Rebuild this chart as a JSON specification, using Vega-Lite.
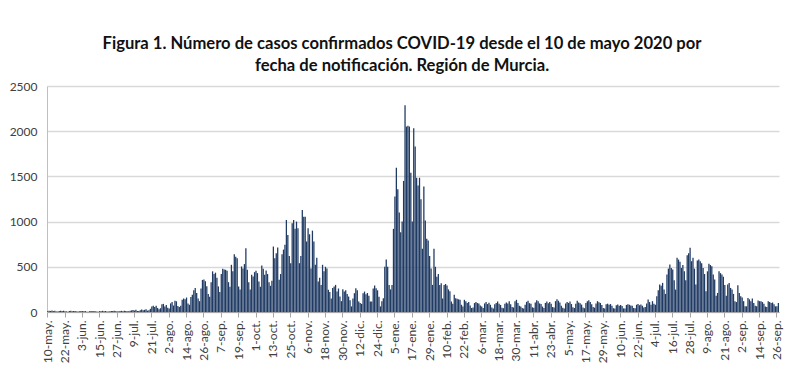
{
"$schema": "https://vega.github.io/schema/vega-lite/v6.json",
"autosize": {"type": "none"},
"width": 732,
"height": 226,
"padding": {"left": 47, "top": 86, "right": 21, "bottom": 64},
"background": "white",
"title": {
"text": ["Figura 1. Número de casos confirmados COVID-19 desde el 10 de mayo 2020 por", "fecha de notificación. Región de Murcia."],
"font": "Lato", "fontSize": 16.6, "fontWeight": "bold", "color": "#111111",
"anchor": "middle", "frame": "group", "dx": -11, "offset": 5, "lineHeight": 22
},
"data": {"values": [
{"d":"2020-05-10","n":8},{"d":"2020-05-11","n":14},{"d":"2020-05-12","n":12},{"d":"2020-05-13","n":16},{"d":"2020-05-14","n":10},{"d":"2020-05-15","n":13},{"d":"2020-05-16","n":6},
{"d":"2020-05-17","n":5},{"d":"2020-05-18","n":12},{"d":"2020-05-19","n":15},{"d":"2020-05-20","n":11},{"d":"2020-05-21","n":14},{"d":"2020-05-22","n":9},{"d":"2020-05-23","n":7},
{"d":"2020-05-24","n":4},{"d":"2020-05-25","n":10},{"d":"2020-05-26","n":13},{"d":"2020-05-27","n":9},{"d":"2020-05-28","n":12},{"d":"2020-05-29","n":11},{"d":"2020-05-30","n":6},
{"d":"2020-05-31","n":5},{"d":"2020-06-01","n":8},{"d":"2020-06-02","n":12},{"d":"2020-06-03","n":10},{"d":"2020-06-04","n":9},{"d":"2020-06-05","n":11},{"d":"2020-06-06","n":4},
{"d":"2020-06-07","n":3},{"d":"2020-06-08","n":9},{"d":"2020-06-09","n":11},{"d":"2020-06-10","n":8},{"d":"2020-06-11","n":12},{"d":"2020-06-12","n":7},{"d":"2020-06-13","n":5},
{"d":"2020-06-14","n":4},{"d":"2020-06-15","n":10},{"d":"2020-06-16","n":8},{"d":"2020-06-17","n":13},{"d":"2020-06-18","n":9},{"d":"2020-06-19","n":11},{"d":"2020-06-20","n":6},
{"d":"2020-06-21","n":5},{"d":"2020-06-22","n":9},{"d":"2020-06-23","n":12},{"d":"2020-06-24","n":10},{"d":"2020-06-25","n":14},{"d":"2020-06-26","n":8},{"d":"2020-06-27","n":7},
{"d":"2020-06-28","n":6},{"d":"2020-06-29","n":11},{"d":"2020-06-30","n":13},{"d":"2020-07-01","n":9},{"d":"2020-07-02","n":15},{"d":"2020-07-03","n":12},{"d":"2020-07-04","n":8},
{"d":"2020-07-05","n":7},{"d":"2020-07-06","n":14},{"d":"2020-07-07","n":18},{"d":"2020-07-08","n":22},{"d":"2020-07-09","n":16},{"d":"2020-07-10","n":25},{"d":"2020-07-11","n":10},
{"d":"2020-07-12","n":12},{"d":"2020-07-13","n":20},{"d":"2020-07-14","n":28},{"d":"2020-07-15","n":18},{"d":"2020-07-16","n":24},{"d":"2020-07-17","n":30},{"d":"2020-07-18","n":15},
{"d":"2020-07-19","n":18},{"d":"2020-07-20","n":35},{"d":"2020-07-21","n":62},{"d":"2020-07-22","n":70},{"d":"2020-07-23","n":55},{"d":"2020-07-24","n":68},{"d":"2020-07-25","n":45},
{"d":"2020-07-26","n":30},{"d":"2020-07-27","n":42},{"d":"2020-07-28","n":85},{"d":"2020-07-29","n":90},{"d":"2020-07-30","n":60},{"d":"2020-07-31","n":78},{"d":"2020-08-01","n":48},
{"d":"2020-08-02","n":40},{"d":"2020-08-03","n":95},{"d":"2020-08-04","n":110},{"d":"2020-08-05","n":72},{"d":"2020-08-06","n":125},{"d":"2020-08-07","n":118},{"d":"2020-08-08","n":65},
{"d":"2020-08-09","n":55},{"d":"2020-08-10","n":70},{"d":"2020-08-11","n":135},{"d":"2020-08-12","n":150},{"d":"2020-08-13","n":142},{"d":"2020-08-14","n":160},{"d":"2020-08-15","n":95},
{"d":"2020-08-16","n":80},{"d":"2020-08-17","n":165},{"d":"2020-08-18","n":190},{"d":"2020-08-19","n":240},{"d":"2020-08-20","n":265},{"d":"2020-08-21","n":210},{"d":"2020-08-22","n":150},
{"d":"2020-08-23","n":120},{"d":"2020-08-24","n":260},{"d":"2020-08-25","n":355},{"d":"2020-08-26","n":360},{"d":"2020-08-27","n":340},{"d":"2020-08-28","n":285},{"d":"2020-08-29","n":200},
{"d":"2020-08-30","n":170},{"d":"2020-08-31","n":330},{"d":"2020-09-01","n":450},{"d":"2020-09-02","n":420},{"d":"2020-09-03","n":435},{"d":"2020-09-04","n":380},{"d":"2020-09-05","n":283},
{"d":"2020-09-06","n":220},{"d":"2020-09-07","n":420},{"d":"2020-09-08","n":478},{"d":"2020-09-09","n":470},{"d":"2020-09-10","n":467},{"d":"2020-09-11","n":455},{"d":"2020-09-12","n":330},
{"d":"2020-09-13","n":280},{"d":"2020-09-14","n":522},{"d":"2020-09-15","n":450},{"d":"2020-09-16","n":640},{"d":"2020-09-17","n":610},{"d":"2020-09-18","n":595},{"d":"2020-09-19","n":283},
{"d":"2020-09-20","n":250},{"d":"2020-09-21","n":504},{"d":"2020-09-22","n":480},{"d":"2020-09-23","n":530},{"d":"2020-09-24","n":706},{"d":"2020-09-25","n":467},{"d":"2020-09-26","n":330},
{"d":"2020-09-27","n":250},{"d":"2020-09-28","n":412},{"d":"2020-09-29","n":393},{"d":"2020-09-30","n":441},{"d":"2020-10-01","n":456},{"d":"2020-10-02","n":430},{"d":"2020-10-03","n":338},
{"d":"2020-10-04","n":280},{"d":"2020-10-05","n":515},{"d":"2020-10-06","n":478},{"d":"2020-10-07","n":412},{"d":"2020-10-08","n":460},{"d":"2020-10-09","n":420},{"d":"2020-10-10","n":330},
{"d":"2020-10-11","n":290},{"d":"2020-10-12","n":346},{"d":"2020-10-13","n":724},{"d":"2020-10-14","n":595},{"d":"2020-10-15","n":650},{"d":"2020-10-16","n":713},{"d":"2020-10-17","n":357},
{"d":"2020-10-18","n":420},{"d":"2020-10-19","n":640},{"d":"2020-10-20","n":690},{"d":"2020-10-21","n":743},{"d":"2020-10-22","n":1018},{"d":"2020-10-23","n":853},{"d":"2020-10-24","n":620},
{"d":"2020-10-25","n":540},{"d":"2020-10-26","n":982},{"d":"2020-10-27","n":1018},{"d":"2020-10-28","n":920},{"d":"2020-10-29","n":1000},{"d":"2020-10-30","n":926},{"d":"2020-10-31","n":540},
{"d":"2020-11-01","n":620},{"d":"2020-11-02","n":1129},{"d":"2020-11-03","n":1055},{"d":"2020-11-04","n":1055},{"d":"2020-11-05","n":780},{"d":"2020-11-06","n":926},{"d":"2020-11-07","n":860},
{"d":"2020-11-08","n":480},{"d":"2020-11-09","n":900},{"d":"2020-11-10","n":780},{"d":"2020-11-11","n":522},{"d":"2020-11-12","n":600},{"d":"2020-11-13","n":338},{"d":"2020-11-14","n":380},
{"d":"2020-11-15","n":300},{"d":"2020-11-16","n":522},{"d":"2020-11-17","n":450},{"d":"2020-11-18","n":500},{"d":"2020-11-19","n":480},{"d":"2020-11-20","n":246},{"d":"2020-11-21","n":220},
{"d":"2020-11-22","n":150},{"d":"2020-11-23","n":265},{"d":"2020-11-24","n":283},{"d":"2020-11-25","n":300},{"d":"2020-11-26","n":226},{"d":"2020-11-27","n":260},{"d":"2020-11-28","n":171},
{"d":"2020-11-29","n":120},{"d":"2020-11-30","n":252},{"d":"2020-12-01","n":226},{"d":"2020-12-02","n":240},{"d":"2020-12-03","n":200},{"d":"2020-12-04","n":171},{"d":"2020-12-05","n":130},
{"d":"2020-12-06","n":62},{"d":"2020-12-07","n":150},{"d":"2020-12-08","n":208},{"d":"2020-12-09","n":263},{"d":"2020-12-10","n":240},{"d":"2020-12-11","n":117},{"d":"2020-12-12","n":100},
{"d":"2020-12-13","n":90},{"d":"2020-12-14","n":208},{"d":"2020-12-15","n":226},{"d":"2020-12-16","n":197},{"d":"2020-12-17","n":210},{"d":"2020-12-18","n":180},{"d":"2020-12-19","n":117},
{"d":"2020-12-20","n":117},{"d":"2020-12-21","n":260},{"d":"2020-12-22","n":292},{"d":"2020-12-23","n":263},{"d":"2020-12-24","n":240},{"d":"2020-12-25","n":170},{"d":"2020-12-26","n":62},
{"d":"2020-12-27","n":120},{"d":"2020-12-28","n":153},{"d":"2020-12-29","n":500},{"d":"2020-12-30","n":580},{"d":"2020-12-31","n":500},{"d":"2021-01-01","n":300},{"d":"2021-01-02","n":250},
{"d":"2021-01-03","n":300},{"d":"2021-01-04","n":920},{"d":"2021-01-05","n":1277},{"d":"2021-01-06","n":1595},{"d":"2021-01-07","n":1358},{"d":"2021-01-08","n":1100},{"d":"2021-01-09","n":883},
{"d":"2021-01-10","n":1000},{"d":"2021-01-11","n":1450},{"d":"2021-01-12","n":2288},{"d":"2021-01-13","n":2051},{"d":"2021-01-14","n":2060},{"d":"2021-01-15","n":2051},{"d":"2021-01-16","n":1540},
{"d":"2021-01-17","n":1000},{"d":"2021-01-18","n":2033},{"d":"2021-01-19","n":1832},{"d":"2021-01-20","n":1485},{"d":"2021-01-21","n":1400},{"d":"2021-01-22","n":1485},{"d":"2021-01-23","n":1248},
{"d":"2021-01-24","n":700},{"d":"2021-01-25","n":1387},{"d":"2021-01-26","n":1011},{"d":"2021-01-27","n":810},{"d":"2021-01-28","n":792},{"d":"2021-01-29","n":620},{"d":"2021-01-30","n":482},
{"d":"2021-01-31","n":300},{"d":"2021-02-01","n":700},{"d":"2021-02-02","n":500},{"d":"2021-02-03","n":390},{"d":"2021-02-04","n":420},{"d":"2021-02-05","n":300},{"d":"2021-02-06","n":318},
{"d":"2021-02-07","n":150},{"d":"2021-02-08","n":300},{"d":"2021-02-09","n":310},{"d":"2021-02-10","n":292},{"d":"2021-02-11","n":250},{"d":"2021-02-12","n":230},{"d":"2021-02-13","n":117},
{"d":"2021-02-14","n":90},{"d":"2021-02-15","n":190},{"d":"2021-02-16","n":153},{"d":"2021-02-17","n":146},{"d":"2021-02-18","n":140},{"d":"2021-02-19","n":135},{"d":"2021-02-20","n":80},
{"d":"2021-02-21","n":60},{"d":"2021-02-22","n":135},{"d":"2021-02-23","n":120},{"d":"2021-02-24","n":99},{"d":"2021-02-25","n":110},{"d":"2021-02-26","n":73},{"d":"2021-02-27","n":44},
{"d":"2021-02-28","n":50},{"d":"2021-03-01","n":99},{"d":"2021-03-02","n":110},{"d":"2021-03-03","n":99},{"d":"2021-03-04","n":95},{"d":"2021-03-05","n":73},{"d":"2021-03-06","n":60},
{"d":"2021-03-07","n":45},{"d":"2021-03-08","n":95},{"d":"2021-03-09","n":110},{"d":"2021-03-10","n":88},{"d":"2021-03-11","n":102},{"d":"2021-03-12","n":80},{"d":"2021-03-13","n":50},
{"d":"2021-03-14","n":40},{"d":"2021-03-15","n":85},{"d":"2021-03-16","n":100},{"d":"2021-03-17","n":115},{"d":"2021-03-18","n":92},{"d":"2021-03-19","n":78},{"d":"2021-03-20","n":48},
{"d":"2021-03-21","n":42},{"d":"2021-03-22","n":90},{"d":"2021-03-23","n":105},{"d":"2021-03-24","n":95},{"d":"2021-03-25","n":120},{"d":"2021-03-26","n":85},{"d":"2021-03-27","n":55},
{"d":"2021-03-28","n":50},{"d":"2021-03-29","n":118},{"d":"2021-03-30","n":135},{"d":"2021-03-31","n":100},{"d":"2021-04-01","n":70},{"d":"2021-04-02","n":60},{"d":"2021-04-03","n":45},
{"d":"2021-04-04","n":38},{"d":"2021-04-05","n":80},{"d":"2021-04-06","n":112},{"d":"2021-04-07","n":125},{"d":"2021-04-08","n":98},{"d":"2021-04-09","n":90},{"d":"2021-04-10","n":52},
{"d":"2021-04-11","n":48},{"d":"2021-04-12","n":105},{"d":"2021-04-13","n":130},{"d":"2021-04-14","n":118},{"d":"2021-04-15","n":95},{"d":"2021-04-16","n":88},{"d":"2021-04-17","n":60},
{"d":"2021-04-18","n":45},{"d":"2021-04-19","n":100},{"d":"2021-04-20","n":115},{"d":"2021-04-21","n":98},{"d":"2021-04-22","n":110},{"d":"2021-04-23","n":92},{"d":"2021-04-24","n":55},
{"d":"2021-04-25","n":50},{"d":"2021-04-26","n":120},{"d":"2021-04-27","n":140},{"d":"2021-04-28","n":125},{"d":"2021-04-29","n":105},{"d":"2021-04-30","n":70},{"d":"2021-05-01","n":48},
{"d":"2021-05-02","n":40},{"d":"2021-05-03","n":95},{"d":"2021-05-04","n":110},{"d":"2021-05-05","n":100},{"d":"2021-05-06","n":115},{"d":"2021-05-07","n":88},{"d":"2021-05-08","n":52},
{"d":"2021-05-09","n":45},{"d":"2021-05-10","n":90},{"d":"2021-05-11","n":125},{"d":"2021-05-12","n":105},{"d":"2021-05-13","n":98},{"d":"2021-05-14","n":82},{"d":"2021-05-15","n":50},
{"d":"2021-05-16","n":42},{"d":"2021-05-17","n":100},{"d":"2021-05-18","n":118},{"d":"2021-05-19","n":130},{"d":"2021-05-20","n":110},{"d":"2021-05-21","n":85},{"d":"2021-05-22","n":55},
{"d":"2021-05-23","n":48},{"d":"2021-05-24","n":95},{"d":"2021-05-25","n":120},{"d":"2021-05-26","n":108},{"d":"2021-05-27","n":100},{"d":"2021-05-28","n":78},{"d":"2021-05-29","n":45},
{"d":"2021-05-30","n":40},{"d":"2021-05-31","n":85},{"d":"2021-06-01","n":92},{"d":"2021-06-02","n":80},{"d":"2021-06-03","n":88},{"d":"2021-06-04","n":70},{"d":"2021-06-05","n":42},
{"d":"2021-06-06","n":38},{"d":"2021-06-07","n":75},{"d":"2021-06-08","n":82},{"d":"2021-06-09","n":70},{"d":"2021-06-10","n":78},{"d":"2021-06-11","n":65},{"d":"2021-06-12","n":40},
{"d":"2021-06-13","n":40},{"d":"2021-06-14","n":78},{"d":"2021-06-15","n":85},{"d":"2021-06-16","n":80},{"d":"2021-06-17","n":72},{"d":"2021-06-18","n":68},{"d":"2021-06-19","n":45},
{"d":"2021-06-20","n":42},{"d":"2021-06-21","n":80},{"d":"2021-06-22","n":88},{"d":"2021-06-23","n":75},{"d":"2021-06-24","n":82},{"d":"2021-06-25","n":70},{"d":"2021-06-26","n":50},
{"d":"2021-06-27","n":55},{"d":"2021-06-28","n":95},{"d":"2021-06-29","n":137},{"d":"2021-06-30","n":110},{"d":"2021-07-01","n":81},{"d":"2021-07-02","n":120},{"d":"2021-07-03","n":90},
{"d":"2021-07-04","n":80},{"d":"2021-07-05","n":174},{"d":"2021-07-06","n":240},{"d":"2021-07-07","n":303},{"d":"2021-07-08","n":290},{"d":"2021-07-09","n":322},{"d":"2021-07-10","n":248},
{"d":"2021-07-11","n":200},{"d":"2021-07-12","n":414},{"d":"2021-07-13","n":480},{"d":"2021-07-14","n":525},{"d":"2021-07-15","n":488},{"d":"2021-07-16","n":470},{"d":"2021-07-17","n":350},
{"d":"2021-07-18","n":248},{"d":"2021-07-19","n":600},{"d":"2021-07-20","n":580},{"d":"2021-07-21","n":555},{"d":"2021-07-22","n":488},{"d":"2021-07-23","n":520},{"d":"2021-07-24","n":451},
{"d":"2021-07-25","n":350},{"d":"2021-07-26","n":629},{"d":"2021-07-27","n":650},{"d":"2021-07-28","n":710},{"d":"2021-07-29","n":562},{"d":"2021-07-30","n":600},{"d":"2021-07-31","n":480},
{"d":"2021-08-01","n":303},{"d":"2021-08-02","n":570},{"d":"2021-08-03","n":580},{"d":"2021-08-04","n":562},{"d":"2021-08-05","n":540},{"d":"2021-08-06","n":488},{"d":"2021-08-07","n":420},
{"d":"2021-08-08","n":229},{"d":"2021-08-09","n":450},{"d":"2021-08-10","n":533},{"d":"2021-08-11","n":520},{"d":"2021-08-12","n":507},{"d":"2021-08-13","n":414},{"d":"2021-08-14","n":360},
{"d":"2021-08-15","n":180},{"d":"2021-08-16","n":211},{"d":"2021-08-17","n":451},{"d":"2021-08-18","n":430},{"d":"2021-08-19","n":414},{"d":"2021-08-20","n":390},{"d":"2021-08-21","n":300},
{"d":"2021-08-22","n":180},{"d":"2021-08-23","n":303},{"d":"2021-08-24","n":322},{"d":"2021-08-25","n":266},{"d":"2021-08-26","n":250},{"d":"2021-08-27","n":200},{"d":"2021-08-28","n":118},
{"d":"2021-08-29","n":110},{"d":"2021-08-30","n":296},{"d":"2021-08-31","n":210},{"d":"2021-09-01","n":174},{"d":"2021-09-02","n":160},{"d":"2021-09-03","n":120},{"d":"2021-09-04","n":63},
{"d":"2021-09-05","n":63},{"d":"2021-09-06","n":155},{"d":"2021-09-07","n":140},{"d":"2021-09-08","n":118},{"d":"2021-09-09","n":148},{"d":"2021-09-10","n":100},{"d":"2021-09-11","n":70},
{"d":"2021-09-12","n":63},{"d":"2021-09-13","n":126},{"d":"2021-09-14","n":120},{"d":"2021-09-15","n":118},{"d":"2021-09-16","n":110},{"d":"2021-09-17","n":90},{"d":"2021-09-18","n":60},
{"d":"2021-09-19","n":55},{"d":"2021-09-20","n":118},{"d":"2021-09-21","n":110},{"d":"2021-09-22","n":100},{"d":"2021-09-23","n":105},{"d":"2021-09-24","n":85},{"d":"2021-09-25","n":63},
{"d":"2021-09-26","n":63},{"d":"2021-09-27","n":100}
]},
"mark": {"type": "bar", "color": "#1f3a63"},
"encoding": {
"x": {
"field": "d", "type": "ordinal", "sort": "ascending",
"scale": {"paddingInner": 0.12, "paddingOuter": 0},
"axis": {
"title": null,
"values": ["2020-05-10","2020-05-22","2020-06-03","2020-06-15","2020-06-27","2020-07-09","2020-07-21","2020-08-02","2020-08-14","2020-08-26","2020-09-07","2020-09-19","2020-10-01","2020-10-13","2020-10-25","2020-11-06","2020-11-18","2020-11-30","2020-12-12","2020-12-24","2021-01-05","2021-01-17","2021-01-29","2021-02-10","2021-02-22","2021-03-06","2021-03-18","2021-03-30","2021-04-11","2021-04-23","2021-05-05","2021-05-17","2021-05-29","2021-06-10","2021-06-22","2021-07-04","2021-07-16","2021-07-28","2021-08-09","2021-08-21","2021-09-02","2021-09-14","2021-09-26"],
"labelExpr": "toNumber(slice(datum.value,8,10)) + '-' + ['ene','feb','mar','abr','may','jun','jul','ago','sep','oct','nov','dic'][toNumber(slice(datum.value,5,7))-1] + '.'",
"labelAngle": -90, "labelFont": "Lato", "labelFontSize": 12, "labelColor": "#404040",
"labelPadding": 3, "tickSize": 5, "tickColor": "#a6a6a6", "domainColor": "#a6a6a6",
"labelOverlap": false, "grid": false
}
},
"y": {
"field": "n", "type": "quantitative",
"scale": {"domain": [0, 2500], "nice": false},
"axis": {
"title": null, "values": [0, 500, 1000, 1500, 2000, 2500], "format": "d",
"labelFont": "Lato", "labelFontSize": 12, "labelColor": "#404040",
"ticks": false, "labelPadding": 10, "domainColor": "#bfbfbf",
"gridColor": "#d9d9d9", "gridWidth": 1.5
}
}
},
"config": {"view": {"stroke": null}}
}
